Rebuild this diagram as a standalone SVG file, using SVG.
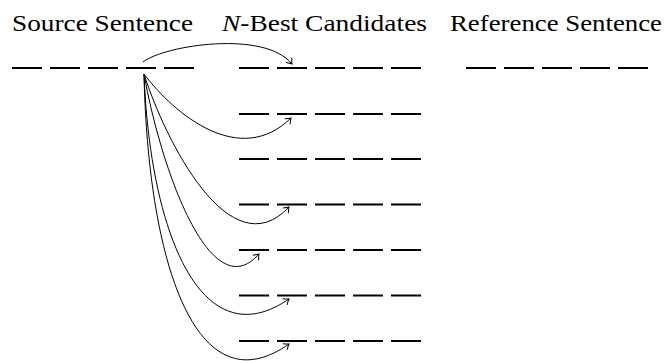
<svg xmlns="http://www.w3.org/2000/svg" width="667" height="361" viewBox="0 0 667 361">
<defs>
<style>
text{font-family:'Liberation Serif','DejaVu Serif',serif;font-size:23.5px;fill:#000}
.tok{stroke:#000;stroke-width:2.2;fill:none}
.con{stroke:#000;stroke-width:1;fill:none;marker-end:url(#ah)}
</style>
<marker id="ah" markerWidth="10" markerHeight="10" refX="0" refY="0" viewBox="-6 -5 8 10" orient="auto" markerUnits="userSpaceOnUse">
<path d="M-5,-3.8 Q-1.6,-0.9 0,0 Q-1.6,0.9 -5,3.8" fill="none" stroke="#000" stroke-width="1"/>
</marker>
<path id="row" d="M0,0h30M38,0h30M76,0h30M114,0h30M152,0h30"/>
</defs>
<g id="source">
<text x="12" y="30.5" font-family="Liberation Serif, serif" textLength="181" lengthAdjust="spacingAndGlyphs">Source Sentence</text>
<use href="#row" class="tok" x="12" y="68"/>
</g>
<g id="candidates">
<text x="222" y="30.5" font-family="Liberation Serif, serif" textLength="205" lengthAdjust="spacingAndGlyphs"><tspan font-style="italic">N</tspan>-Best Candidates</text>
<g id="cand1"><use href="#row" class="tok" x="239" y="68"/></g>
<g id="cand2"><use href="#row" class="tok" x="239" y="114"/></g>
<g id="cand3"><use href="#row" class="tok" x="239" y="159"/></g>
<g id="cand4"><use href="#row" class="tok" x="239" y="204.5"/></g>
<g id="cand5"><use href="#row" class="tok" x="239" y="250"/></g>
<g id="cand6"><use href="#row" class="tok" x="239" y="295.5"/></g>
<g id="cand7"><use href="#row" class="tok" x="239" y="341"/></g>
</g>
<g id="reference">
<text x="450" y="30.5" font-family="Liberation Serif, serif" textLength="212" lengthAdjust="spacingAndGlyphs">Reference Sentence</text>
<use href="#row" class="tok" x="466" y="68"/>
</g>
<g id="connectors">
<path class="con" d="M143,62 C165,45 265,30 292,64"/>
<path class="con" d="M144,74 C175,115 240,168 291,118"/>
<path class="con" d="M144,74 C165,140 230,270 289,207"/>
<path class="con" d="M144,74 C160,165 210,310 259,254"/>
<path class="con" d="M144,74 C150,230 200,360 289,299"/>
<path class="con" d="M144,74 C148,260 195,410 289,344"/>
</g>
</svg>
